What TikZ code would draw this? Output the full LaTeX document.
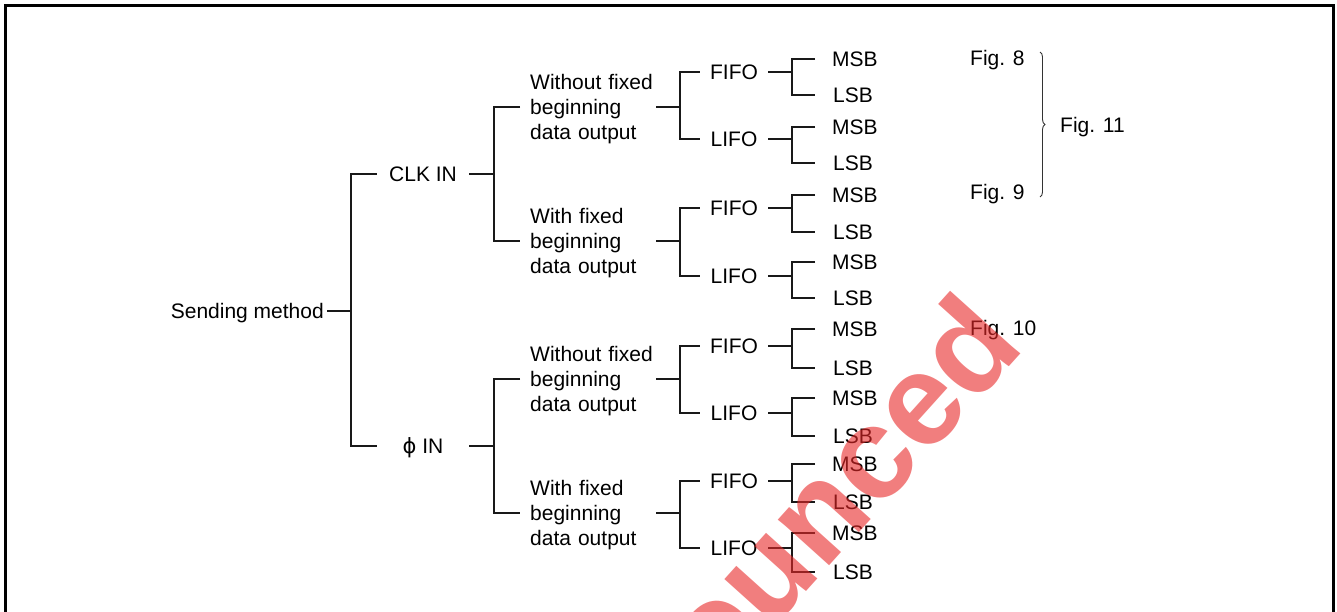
\documentclass[tikz,border=0pt]{standalone}
\usepackage{fontspec}
\setmainfont{Liberation Sans}
\newfontfamily\dejavu{DejaVu Sans}
\usetikzlibrary{decorations.pathreplacing}
\definecolor{wmred}{RGB}{232,40,40}
\begin{document}
\begin{tikzpicture}[x=1pt,y=-1pt,
  conn/.style={line width=1.2pt, draw=black!90},
  tx/.style={inner sep=0pt, font=\fontsize{21}{25}\selectfont},
  one/.style={tx, text height=15pt, text depth=0pt},
  lvA/.style={one, minimum width=92pt},
  lvB/.style={one, minimum width=68pt},
  mid/.style={tx, text width=126pt, align=left, text height=15pt, text depth=50pt, anchor=west},
  leaf/.style={one, anchor=west},
  wm/.style={inner sep=0pt, rotate=48, anchor=base east, text=wmred, opacity=0.6,
    font=\fontsize{130}{130}\bfseries\selectfont}]
\useasboundingbox (0,0) rectangle (1337,612);
% frame
\draw[line width=2.6pt] (5.5,650) -- (5.5,5.5) -- (1333.5,5.5) -- (1333.5,650);

% root and first level
\node[one, anchor=east] (sm) at (324,311) {Sending method};
\coordinate (j0) at (351,311);
\node[lvA] (clk) at (423,174) {CLK IN};
\node[lvA] (phi) at (423,446) {{\dejavu ϕ} IN};
\draw[conn] ([xshift=3pt]sm.east) -- (j0);
\draw[conn] (clk.west) -| (j0) |- (phi.west);

% second to fourth levels
\foreach \g/\ym/\yf/\yl/\a/\b/\c/\d/\t in {
  A/107/72/139/59/95/127/163/Without,
  B/241/208/276/195/232/262/298/With,
  C/379/346/413/329/368/398/436/Without,
  D/513/481/548/464/502/533/572/With}{
  \node[mid] (m\g) at (530,\ym) {\t\ fixed\\beginning\\data output};
  \coordinate (k\g) at (680,\ym);
  \draw[conn] (m\g.east) -- (k\g);
  \node[lvB] (fi\g) at (734,\yf) {FIFO};
  \node[lvB] (li\g) at (734,\yl) {LIFO};
  \draw[conn] (fi\g.west) -| (k\g) |- (li\g.west);
  \coordinate (pf\g) at (792,\yf);
  \coordinate (pl\g) at (792,\yl);
  \draw[conn] (fi\g.east) -- (pf\g);
  \draw[conn] (li\g.east) -- (pl\g);
  \node[leaf] (fm\g) at (832,\a) {MSB};
  \node[leaf] (fl\g) at (833,\b) {LSB};
  \node[leaf] (lm\g) at (832,\c) {MSB};
  \node[leaf] (ll\g) at (833,\d) {LSB};
  \draw[conn] ([xshift=-17pt]fm\g.west) -| (pf\g) |- ([xshift=-18pt]fl\g.west);
  \draw[conn] ([xshift=-17pt]lm\g.west) -| (pl\g) |- ([xshift=-18pt]ll\g.west);
}

% level-1 to level-2 connectors
\coordinate (j1) at (494,174);
\coordinate (j2) at (494,446);
\draw[conn] (clk.east) -- (j1);
\draw[conn] ([xshift=-10pt]mA.west) -| (j1) |- ([xshift=-10pt]mB.west);
\draw[conn] (phi.east) -- (j2);
\draw[conn] ([xshift=-10pt]mC.west) -| (j2) |- ([xshift=-10pt]mD.west);

% figure references
\node[leaf] (f8) at (970,58) {Fig. 8};
\node[leaf] (f9) at (970,192) {Fig. 9};
\node[leaf] (f10) at (970,328) {Fig. 10};
\node[leaf] (f11) at (1060,125) {Fig. 11};
\draw[line width=0.9pt, draw=black!80, decorate, decoration={brace, amplitude=5pt}]
  (1040,52) -- (1040,197);

% watermark
\node[wm] (wmk) at (1027,347) {ounced};
\end{tikzpicture}
\end{document}
